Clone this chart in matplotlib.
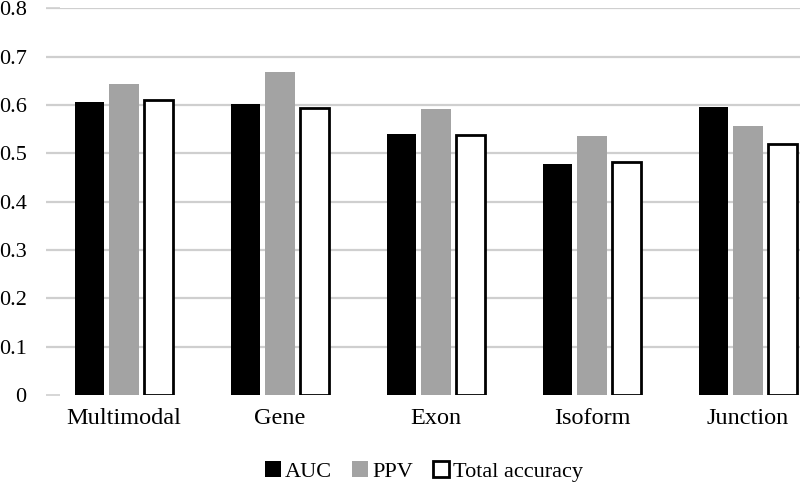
import matplotlib
matplotlib.use("Agg")
import matplotlib.pyplot as plt
import numpy as np

categories = ["Multimodal", "Gene", "Exon", "Isoform", "Junction"]
auc = [0.606, 0.602, 0.540, 0.478, 0.595]
ppv = [0.643, 0.668, 0.591, 0.535, 0.556]
total_acc = [0.610, 0.593, 0.537, 0.482, 0.519]
yticks = [0, 0.1, 0.2, 0.3, 0.4, 0.5, 0.6, 0.7, 0.8]
ytick_labels = ["0", "0.1", "0.2", "0.3", "0.4", "0.5", "0.6", "0.7", "0.8"]

plt.rcParams['font.family'] = ['Liberation Serif', 'DejaVu Serif']

fig = plt.figure(figsize=(8, 4.83), dpi=100)
# axes run past the right edge, like the cropped original
ax = fig.add_axes([0.0575, 0.182, 0.975, 0.801])

x = np.arange(len(categories))
w = 0.186
off = 0.224
ax.bar(x - off, auc, w, color='black', label='AUC', zorder=3)
ax.bar(x, ppv, w, color='#a3a3a3', label='PPV', zorder=3)
ax.bar(x + off, total_acc, w, color='white', edgecolor='black', linewidth=2,
       label='Total accuracy', zorder=3)

ax.set_xlim(-0.5, len(categories) - 0.5)
ax.set_ylim(0, 0.8)
ax.set_yticks(yticks)
ax.set_yticklabels(ytick_labels)
ax.set_xticks(x)
ax.set_xticklabels(categories)

ax.grid(axis='y', color='#cfcfcf', linewidth=1.6, zorder=0)
ax.yaxis.get_gridlines()[0].set_visible(False)
for s in ax.spines.values():
    s.set_visible(False)

ax.tick_params(axis='y', direction='in', length=10, width=1.2, color='#cfcfcf',
               labelsize=16, pad=14)
ax.tick_params(axis='x', length=0, labelsize=17.5, pad=9)

fig.legend(loc='center', bbox_to_anchor=(0.53, 0.024), ncol=3, frameon=False,
           fontsize=16, handlelength=0.7, handleheight=0.7, handletextpad=0.2,
           columnspacing=0.9, borderaxespad=0)

plt.savefig("out.png", dpi=100)
